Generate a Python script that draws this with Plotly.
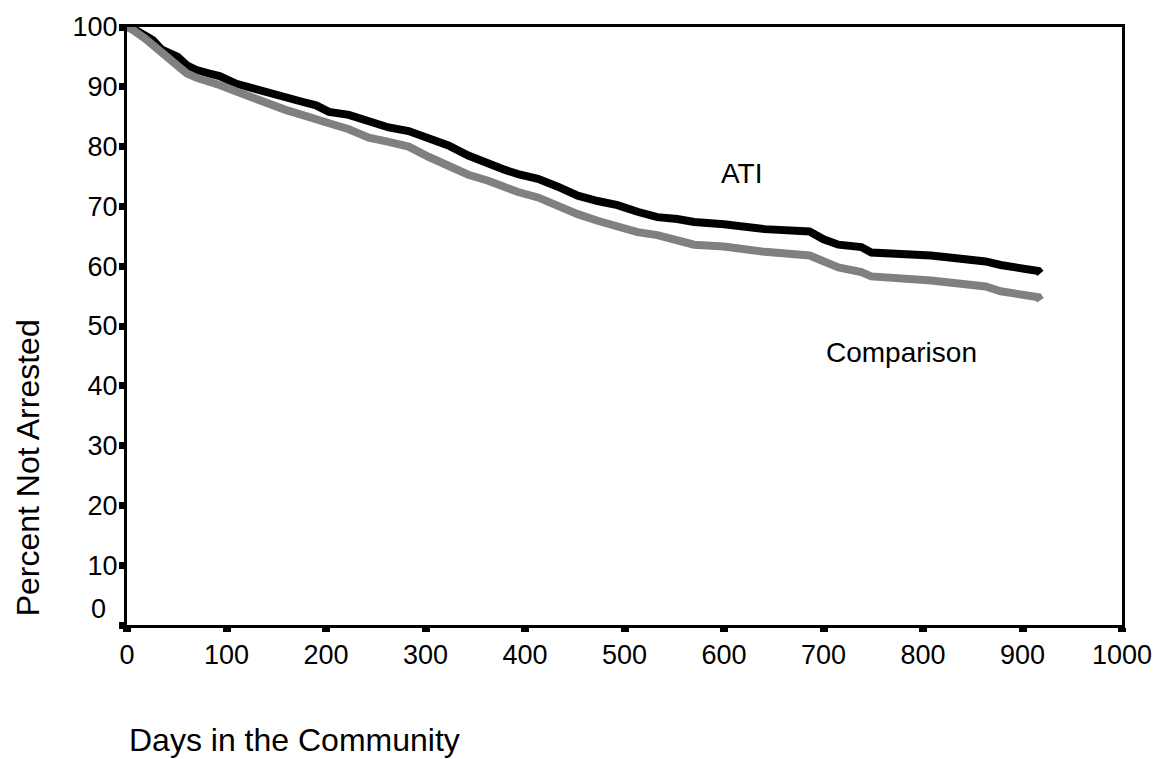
import plotly.graph_objects as go

# Kaplan-Meier style survival curves
ati_days = [0, 3, 18, 26, 35, 43, 51, 60, 70, 83, 93, 110, 126, 143, 160, 176, 190,
            203, 223, 243, 263, 283, 303, 323, 343, 363, 380, 393, 413, 433, 453, 473,
            493, 513, 533, 553, 570, 600, 618, 641, 686, 700, 715, 738, 748, 808, 863,
            878, 916, 918]
ati_pct = [100, 100, 98.6, 97.8, 96.2, 95.6, 95.0, 93.6, 92.8, 92.2, 91.8, 90.5, 89.7,
           89.0, 88.2, 87.5, 86.9, 85.8, 85.3, 84.1, 83.2, 82.6, 81.3, 80.2, 78.5, 77.1,
           76.1, 75.4, 74.6, 73.3, 71.8, 70.9, 70.2, 69.1, 68.2, 67.9, 67.4, 67.0, 66.7,
           66.2, 65.8, 64.5, 63.6, 63.2, 62.3, 61.8, 60.8, 60.2, 59.2, 58.8]

cmp_days = [0, 6, 18, 26, 35, 43, 51, 60, 70, 83, 93, 110, 126, 143, 160, 176, 190,
            203, 223, 243, 263, 283, 303, 323, 343, 363, 380, 393, 413, 433, 453, 473,
            493, 513, 533, 553, 570, 600, 618, 641, 686, 700, 715, 738, 748, 808, 863,
            878, 916, 918]
cmp_pct = [100, 99.5, 98.1, 97.0, 95.9, 94.75, 93.4, 92.25, 91.5, 90.9, 90.3, 89.2, 88.1,
           87.25, 86.1, 85.3, 84.4, 83.9, 82.9, 81.5, 80.8, 80.0, 78.3, 76.8, 75.3, 74.3,
           73.2, 72.4, 71.5, 70.0, 68.7, 67.6, 66.7, 65.7, 65.2, 64.3, 63.6, 63.3, 62.9,
           62.4, 61.8, 60.8, 59.8, 59.0, 58.3, 57.6, 56.6, 55.8, 54.8, 54.3]

x_ticks = [0, 100, 200, 300, 400, 500, 600, 700, 800, 900, 1000]
y_ticks = [0, 10, 20, 30, 40, 50, 60, 70, 80, 90, 100]
y_ticktext = ["" if v == 0 else str(v) for v in y_ticks]

FONT = "Liberation Sans, Arial, sans-serif"

fig = go.Figure()
fig.add_trace(go.Scatter(x=ati_days, y=ati_pct, mode="lines", name="ATI",
                         line=dict(color="#000000", width=8), showlegend=False))
fig.add_trace(go.Scatter(x=cmp_days, y=cmp_pct, mode="lines", name="Comparison",
                         line=dict(color="#808080", width=8), showlegend=False))

fig.update_layout(
    width=1164, height=759,
    margin=dict(l=127, r=37, t=25, b=134),
    paper_bgcolor="white", plot_bgcolor="white",
    font=dict(family=FONT, size=27, color="black"),
    xaxis=dict(range=[0, 1000], tickvals=x_ticks, ticktext=[str(v) for v in x_ticks],
               showgrid=False, zeroline=False, showline=True, linecolor="black",
               linewidth=3, mirror=True, ticks="outside", ticklen=4, tickwidth=8,
               tickcolor="black", tickfont=dict(size=27)),
    yaxis=dict(range=[0, 100], tickvals=y_ticks, ticktext=y_ticktext,
               showgrid=False, zeroline=False, showline=True, linecolor="black",
               linewidth=3, mirror=True, ticks="outside", ticklen=5, tickwidth=7,
               tickcolor="black", tickfont=dict(size=27), ticklabelstandoff=-4),
    annotations=[
        dict(text="0", xref="paper", yref="y", x=0, y=2.7, xanchor="right",
             yanchor="middle", xshift=-19, showarrow=False, font=dict(size=27)),
        dict(text="ATI", xref="x", yref="y", x=618, y=75.5, showarrow=False,
             xanchor="center", yanchor="middle", font=dict(size=28)),
        dict(text="Comparison", xref="x", yref="y", x=778, y=45.5, showarrow=False,
             xanchor="center", yanchor="middle", font=dict(size=28)),
        dict(text="Percent Not Arrested", xref="paper", yref="paper", x=0, y=0.262,
             xshift=-99, textangle=-90, showarrow=False, xanchor="center",
             yanchor="middle", font=dict(size=32)),
        dict(text="Days in the Community", xref="paper", yref="paper", x=0, y=0,
             yshift=-115, showarrow=False, xanchor="left", yanchor="middle",
             font=dict(size=32)),
    ],
)

fig.write_html("out.html")
